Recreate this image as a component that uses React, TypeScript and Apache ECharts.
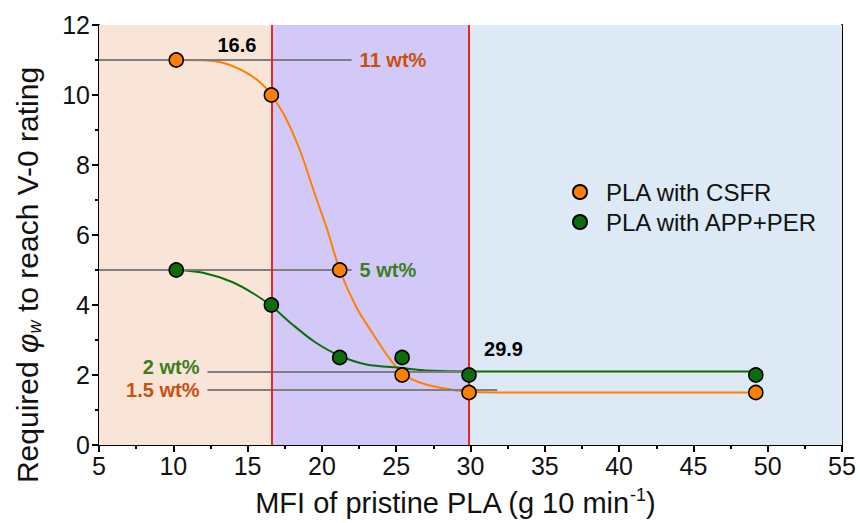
import React, { useEffect, useRef } from "react";
import * as echarts from "echarts";

// ---- data ----
const mfi = [10.2, 16.6, 21.2, 25.4, 29.9, 49.2];
const csfrReq = [11, 10, 5, 2, 1.5, 1.5];
const appPerReq = [5, 4, 2.5, 2.5, 2, 2];

// fitted curves
const csfrFitX = [10.2, 12, 13.5, 15, 16, 16.6, 17.5, 18.5, 19.5, 20.4, 21.2, 22.3, 23.4, 24.5, 25.4, 26.5, 27.9, 29.9, 33, 49.2];
const csfrFitY = [11, 10.99, 10.9, 10.62, 10.3, 10, 9.4, 8.45, 7.2, 6.1, 5.0, 3.95, 3.2, 2.5, 2.05, 1.8, 1.64, 1.52, 1.5, 1.5];
const appFitX = [10.2, 12, 14, 15.5, 16.6, 18, 19.5, 21.2, 23, 25.4, 27, 29.9, 49.2];
const appFitY = [5, 4.92, 4.65, 4.3, 3.97, 3.45, 2.95, 2.55, 2.3, 2.2, 2.13, 2.1, 2.1];

// regions
const regionEdges = [5, 16.6, 29.9, 55];
const regionColors = ["#f9e5d7", "#d3c9f9", "#dde9f4"];
const thresholds = [16.6, 29.9];
const thresholdLabelY = [11.43, 2.74];

// guide lines: y, x start, x end, label, label side
const guideY = [11, 5, 2.1, 1.58];
const guideX0 = [5, 5, 12.3, 12.3];
const guideX1 = [22, 22, 30, 31.8];
const guideLabels = ["11 wt%", "5 wt%", "2 wt%", "1.5 wt%"];
const guideSide = ["end", "end", "start", "start"];
const guideColors = ["#c8500f", "#3d7d1f", "#3d7d1f", "#c8500f"];
const guideLabelShift = [0, 0, -5, 0];

const xTicks = { min: 5, max: 55, interval: 5 };
const yTicks = { min: 0, max: 12, interval: 2 };

const FONT = "'Liberation Sans', Arial, sans-serif";
const ORANGE = "#ff8000";
const GREEN = "#0b6e0b";

export default function App() {
  const ref = useRef<HTMLDivElement>(null);
  useEffect(() => {
    if (!ref.current) return;
    const chart = echarts.init(ref.current, null, { renderer: "svg" });
    const zip = (xs: number[], ys: number[]) => xs.map((x, i) => [x, ys[i]]);
    const areas = regionColors.map((c, i) => [
      { xAxis: regionEdges[i], yAxis: yTicks.min, itemStyle: { color: c } },
      { xAxis: regionEdges[i + 1], yAxis: yTicks.max },
    ]);
    const guides = guideY.map((y, i) => [
      {
        coord: [guideX0[i], y],
        label: {
          show: true,
          position: guideSide[i],
          formatter: guideLabels[i],
          color: guideColors[i],
          fontSize: 20,
          fontWeight: "bold",
          fontFamily: FONT,
          distance: 8,
          offset: [0, guideLabelShift[i]],
        },
      },
      { coord: [guideX1[i], y] },
    ]);
    const titleRich = {
      t: { fontSize: 29, fontFamily: FONT, fill: "#111", color: "#111", lineHeight: 34 },
      phi: { fontSize: 29, fontFamily: FONT, fontStyle: "italic", fill: "#111", color: "#111", lineHeight: 34 },
      sub: { fontSize: 18, fontFamily: FONT, fontStyle: "italic", fill: "#111", color: "#111", lineHeight: 18, verticalAlign: "bottom" },
      sup: { fontSize: 18, fontFamily: FONT, fill: "#111", color: "#111", lineHeight: 18, verticalAlign: "top" },
    };
    const yRich = {
      ...titleRich,
      t: { ...titleRich.t, fontSize: 30 },
      phi: { ...titleRich.phi, fontSize: 30 },
    };
    const option: any = {
      animation: false,
      grid: { left: 99, right: 18, top: 25, bottom: 78 },
      legend: {
        data: ["PLA with CSFR", "PLA with APP+PER"],
        orient: "vertical",
        left: 567,
        top: 175,
        itemGap: 6,
        itemWidth: 14,
        itemHeight: 14,
        icon: "circle",
        textStyle: { fontSize: 24, fontFamily: FONT, color: "#111", padding: [0, 0, 0, 14] },
      },
      graphic: [
        {
          type: "text",
          x: 455,
          y: 503,
          style: {
            text: "{t|MFI of pristine PLA (g 10 min}{sup|-1}{t|)}",
            rich: titleRich,
            align: "center",
            verticalAlign: "middle",
          },
        },
        {
          type: "text",
          x: 27,
          y: 275,
          rotation: Math.PI / 2,
          style: {
            text: "{t|Required }{phi|φ}{sub|w}{t| to reach V-0 rating}",
            rich: yRich,
            align: "center",
            verticalAlign: "middle",
          },
        },
      ],
      xAxis: [
        {
          type: "value",
          min: xTicks.min,
          max: xTicks.max,
          interval: xTicks.interval,
          axisLine: { lineStyle: { color: "#000", width: 2 } },
          axisTick: { length: 7, lineStyle: { width: 2, color: "#000" } },
          minorTick: { show: true, splitNumber: 2, length: 4, lineStyle: { width: 2, color: "#000" } },
          axisLabel: { fontSize: 25, fontFamily: FONT, color: "#111", margin: 8 },
          splitLine: { show: false },
        },
        {
          type: "value",
          position: "top",
          min: xTicks.min,
          max: xTicks.max,
          axisLine: { show: true, lineStyle: { color: "#000", width: 2 } },
          axisTick: { show: false },
          axisLabel: { show: false },
          splitLine: { show: false },
        },
      ],
      yAxis: [
        {
          type: "value",
          min: yTicks.min,
          max: yTicks.max,
          interval: yTicks.interval,
          axisLine: { show: true, lineStyle: { color: "#000", width: 2 } },
          axisTick: { show: true, length: 7, lineStyle: { width: 2, color: "#000" } },
          minorTick: { show: true, splitNumber: 2, length: 4, lineStyle: { width: 2, color: "#000" } },
          axisLabel: { fontSize: 25, fontFamily: FONT, color: "#111", margin: 9 },
          splitLine: { show: false },
        },
        {
          type: "value",
          position: "right",
          min: yTicks.min,
          max: yTicks.max,
          axisLine: { show: true, lineStyle: { color: "#000", width: 2 } },
          axisTick: { show: false },
          axisLabel: { show: false },
          splitLine: { show: false },
        },
      ],
      series: [
        {
          name: "regions",
          type: "scatter",
          data: [],
          z: 1,
          silent: true,
          markArea: { silent: true, data: areas },
        },
        {
          name: "guides",
          type: "scatter",
          data: [],
          z: 2,
          silent: true,
          markLine: {
            silent: true,
            symbol: ["none", "none"],
            lineStyle: { color: "#7f7f7f", width: 2, type: "solid" },
            data: guides,
          },
        },
        {
          name: "thresholds",
          type: "scatter",
          data: [],
          z: 3,
          silent: true,
          markLine: {
            silent: true,
            symbol: ["none", "none"],
            label: { show: false },
            lineStyle: { color: "#f01010", width: 1.8, type: "solid" },
            data: thresholds.map((t) => ({ xAxis: t })),
          },
          markPoint: {
            silent: true,
            symbol: "circle",
            symbolSize: 0,
            data: [
              {
                coord: [thresholds[0], thresholdLabelY[0]],
                label: { show: true, position: "left", distance: 15, formatter: String(thresholds[0]), fontSize: 20, fontWeight: "bold", color: "#000", fontFamily: FONT },
              },
              {
                coord: [thresholds[1], thresholdLabelY[1]],
                label: { show: true, position: "right", distance: 15, formatter: String(thresholds[1]), fontSize: 20, fontWeight: "bold", color: "#000", fontFamily: FONT },
              },
            ],
          },
        },
        {
          name: "fitCSFR",
          type: "line",
          data: zip(csfrFitX, csfrFitY),
          smooth: 0.3,
          showSymbol: false,
          z: 4,
          lineStyle: { color: ORANGE, width: 2 },
        },
        {
          name: "fitAPP",
          type: "line",
          data: zip(appFitX, appFitY),
          smooth: 0.3,
          showSymbol: false,
          z: 4,
          lineStyle: { color: GREEN, width: 2 },
        },
        {
          name: "PLA with CSFR",
          type: "scatter",
          data: zip(mfi, csfrReq),
          symbolSize: 14,
          z: 5,
          itemStyle: { color: ORANGE, borderColor: "#000", borderWidth: 1.6, opacity: 1 },
        },
        {
          name: "PLA with APP+PER",
          type: "scatter",
          data: zip(mfi, appPerReq),
          symbolSize: 14,
          z: 5,
          itemStyle: { color: GREEN, borderColor: "#000", borderWidth: 1.6, opacity: 1 },
        },
      ],
    };
    chart.setOption(option);
    return () => chart.dispose();
  }, []);
  return <div ref={ref} style={{ width: 860, height: 523, position: "absolute", left: 0, top: 0 }} />;
}
